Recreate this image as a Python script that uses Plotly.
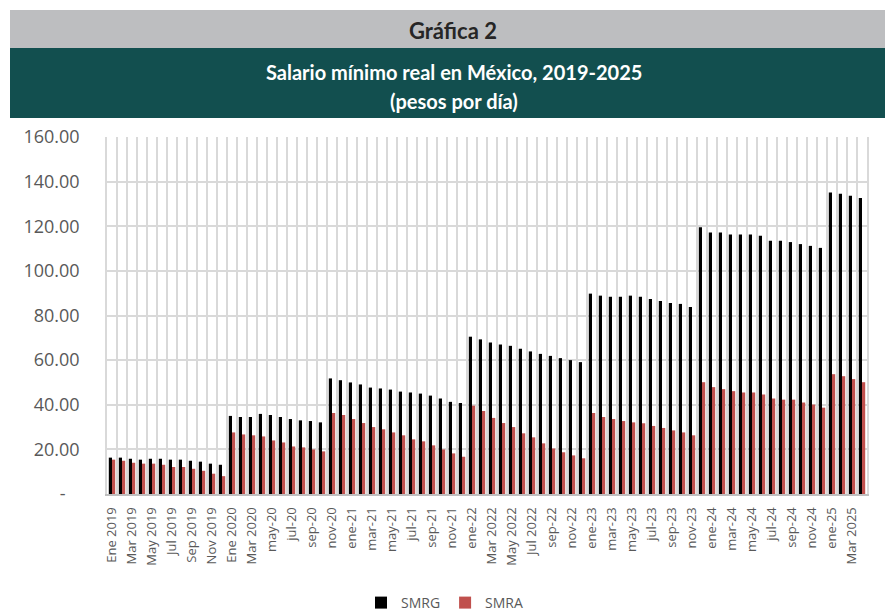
import plotly.graph_objects as go

# Monthly real minimum wage, Jan 2019 - Apr 2025 (76 months)
smrg = [16.3, 16.3, 15.8, 15.4, 15.8, 15.8, 15.4, 15.4, 14.9, 14.5, 13.6, 13.1,
        35.0, 34.5, 34.5, 35.9, 35.4, 34.5, 33.6, 33.0, 32.7, 32.1,
        51.8, 51.0, 50.0, 49.1, 47.7, 47.3, 46.8, 45.9, 45.5, 45.0, 44.1, 42.8, 41.3, 40.8,
        70.5, 69.3, 67.9, 67.0, 66.4, 65.1, 63.9, 62.8, 61.9, 60.9, 60.0, 59.1,
        89.8, 88.9, 88.4, 88.4, 88.9, 88.4, 87.4, 86.5, 85.6, 85.2, 83.8,
        119.5, 117.2, 117.2, 116.3, 116.3, 116.3, 115.7, 113.5, 113.5, 112.9, 112.0, 111.2, 110.3,
        135.1, 134.6, 133.7, 132.7]
smra = [15.4, 14.9, 14.0, 13.6, 13.6, 13.1, 12.1, 12.1, 11.3, 10.4, 9.1, 8.0,
        27.6, 26.7, 26.3, 25.8, 24.0, 23.1, 21.3, 20.9, 20.0, 19.1,
        36.3, 35.4, 33.6, 31.8, 30.0, 29.0, 27.6, 26.3, 24.5, 23.6, 21.8, 20.0, 18.2, 16.7,
        39.6, 37.2, 34.1, 31.8, 30.0, 27.2, 25.4, 22.7, 20.4, 18.7, 17.3, 16.0,
        36.3, 34.5, 33.6, 32.7, 32.1, 31.7, 30.5, 29.6, 28.5, 27.6, 26.3,
        50.1, 47.9, 47.0, 46.1, 45.5, 45.5, 44.6, 42.8, 42.3, 42.3, 41.0, 40.1, 38.7,
        53.7, 52.8, 51.5, 50.1]

x_tick_labels = ["Ene 2019", "Mar 2019", "May 2019", "Jul 2019", "Sep 2019", "Nov 2019",
                 "Ene 2020", "Mar 2020", "may-20", "jul-20", "sep-20", "nov-20",
                 "ene-21", "mar-21", "may-21", "jul-21", "sep-21", "nov-21",
                 "ene-22", "Mar 2022", "May 2022", "Jul 2022", "sep-22", "nov-22",
                 "ene-23", "mar-23", "may-23", "jul-23", "sep-23", "nov-23",
                 "ene-24", "mar-24", "may-24", "jul-24", "sep-24", "nov-24",
                 "ene-25", "Mar 2025"]
y_tick_values = [0, 20, 40, 60, 80, 100, 120, 140, 160]
y_tick_labels = ["-\u00a0\u00a0\u00a0", "20.00", "40.00", "60.00", "80.00",
                 "100.00", "120.00", "140.00", "160.00"]

n = len(smrg)
x = list(range(n))

fig = go.Figure()
fig.add_trace(go.Bar(x=x, y=smrg, name="SMRG", marker=dict(color="#000000", line=dict(width=0))))
fig.add_trace(go.Bar(x=x, y=smra, name="SMRA", marker=dict(color="#C0504D", line=dict(width=0))))

W, H = 885, 613
L, R, T, B = 107, 867, 137, 494
pw, ph = R - L, B - T

def px(xp):
    return (xp - L) / pw

def py(yp):
    return (B - yp) / ph

shapes = [
    dict(type="rect", xref="paper", yref="paper", x0=px(10), x1=px(885), y0=py(48), y1=py(10),
         fillcolor="#BDBEC0", line=dict(width=0), layer="below"),
    dict(type="rect", xref="paper", yref="paper", x0=px(10), x1=px(885), y0=py(118), y1=py(48),
         fillcolor="#124F4F", line=dict(width=0), layer="below"),
]
annotations = [
    dict(text="<b>Gráfica 2</b>", xref="paper", yref="paper", x=px(453), y=py(31),
         showarrow=False, font=dict(family="Lato", size=22, color="#262626"),
         xanchor="center", yanchor="middle"),
    dict(text="<b>Salario mínimo real en México, 2019-2025</b>", xref="paper", yref="paper",
         x=px(454), y=py(72), showarrow=False, font=dict(family="Lato", size=20, color="#FFFFFF"),
         xanchor="center", yanchor="middle"),
    dict(text="<b>(pesos por día)</b>", xref="paper", yref="paper",
         x=px(454), y=py(101), showarrow=False, font=dict(family="Lato", size=20, color="#FFFFFF"),
         xanchor="center", yanchor="middle"),
]

fig.update_layout(
    width=W, height=H,
    margin=dict(l=L, r=W - R, t=T, b=H - B, pad=0, autoexpand=False),
    paper_bgcolor="white", plot_bgcolor="white",
    barmode="group", bargap=0.36, bargroupgap=0.0,
    font=dict(family="Open Sans", color="#595959"),
    shapes=shapes, annotations=annotations,
    legend=dict(orientation="h", xref="container", x=445 / W, xanchor="center",
                yref="container", y=1 - 603 / H, yanchor="middle",
                font=dict(family="Open Sans", size=14, color="#595959"),
                itemwidth=30, traceorder="normal"),
    showlegend=True,
)
fig.update_xaxes(
    range=[-0.5, n - 0.5], automargin=False,
    tickmode="array", tickvals=x[::2], ticktext=x_tick_labels,
    tickangle=-90, tickfont=dict(family="Open Sans", size=13, color="#595959"),
    showgrid=False, ticks="", ticklabelstandoff=6,
    showline=True, linecolor="#BFBFBF", linewidth=2, mirror=False,
    minor=dict(tickmode="array", tickvals=[i - 0.5 for i in range(n + 1)],
               showgrid=True, gridcolor="#D9D9D9", gridwidth=1.5, ticks=""),
    zeroline=False,
)
fig.update_yaxes(
    range=[0, 160], automargin=False,
    tickmode="array", tickvals=y_tick_values, ticktext=y_tick_labels,
    tickfont=dict(family="Open Sans", size=18, color="#595959"),
    showgrid=True, gridcolor="#D9D9D9", gridwidth=1.5,
    showline=True, linecolor="#D9D9D9", linewidth=1.5, mirror=True,
    zeroline=False, ticks="", ticklabelstandoff=22,
)

fig.write_html("out.html", config={"displayModeBar": False},
               post_script="document.body.style.margin='0';document.body.style.padding='0';")
